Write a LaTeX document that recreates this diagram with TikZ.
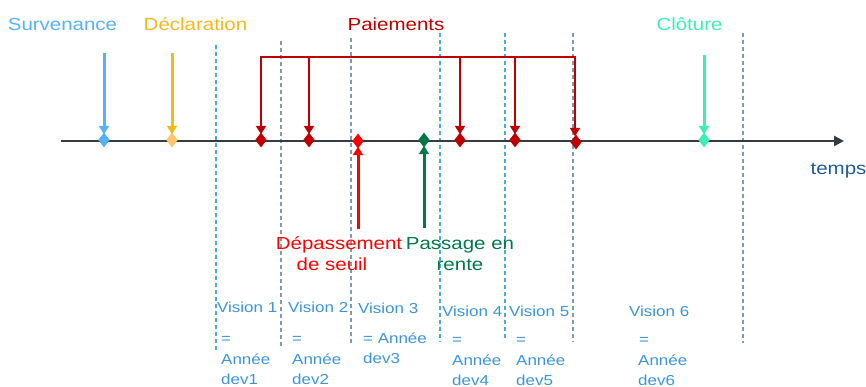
\documentclass[tikz,border=0pt]{standalone}
\usepackage{fontspec}
\setmainfont[FakeStretch=1.17]{Liberation Sans}
\usetikzlibrary{shapes.geometric,arrows.meta}
\definecolor{cSurv}{HTML}{55B2F5}
\definecolor{cDecl}{HTML}{F4B919}
\definecolor{cDeclD}{HTML}{FFC66E}
\definecolor{cPaie}{HTML}{C00000}
\definecolor{cClot}{HTML}{3DF0B2}
\definecolor{cDep}{HTML}{FF0000}
\definecolor{cRente}{HTML}{00784A}
\definecolor{cTemps}{HTML}{1F5C99}
\definecolor{cVis}{HTML}{3A95DC}
\definecolor{cAxis}{HTML}{353B42}
\definecolor{cDashA}{HTML}{45AED6}
\definecolor{cDashB}{HTML}{7E9CAC}
\begin{document}
\begin{tikzpicture}[x=1pt,y=-1pt,
  title/.style={font=\fontsize{17.5}{21}\selectfont, anchor=base, inner sep=0},
  vis/.style={font=\fontsize{14.5}{17}\selectfont, anchor=base west, inner sep=0, text=cVis},
  evmark/.style={diamond, fill=#1, draw=none, inner sep=0, minimum width=11.5pt, minimum height=15pt},
  evarrow/.style={draw=#1, line width=3pt, shorten >=-2pt, -{Triangle[width=10pt,length=8.5pt]}},
  pailine/.style={draw=cPaie, line width=2.8pt},
  dashA/.style={draw=cDashA, line width=1.3pt, dash pattern=on 4pt off 3pt},
  dashB/.style={draw=cDashB, line width=1.5pt, dash pattern=on 4pt off 3pt},
  axisline/.style={draw=cAxis, line width=2.7pt, -{Triangle[width=10pt,length=10pt]}}
]
\useasboundingbox (0,0) rectangle (866,387);

% dashed vision boundaries
\coordinate (v1t) at (216,45);  \coordinate (v1b) at (216,353);
\coordinate (v2t) at (281,41);  \coordinate (v2b) at (281,346);
\coordinate (v3t) at (351,38);  \coordinate (v3b) at (351,344);
\coordinate (v4t) at (440,33);  \coordinate (v4b) at (440,342);
\coordinate (v5t) at (505,33);  \coordinate (v5b) at (505,338);
\coordinate (v6t) at (573,33);  \coordinate (v6b) at (573,342);
\coordinate (v7t) at (743,33);  \coordinate (v7b) at (743,343);
\draw[dashA] (v1t) -- (v1b);
\draw[dashB] (v2t) -- (v2b);
\draw[dashB] (v3t) -- (v3b);
\draw[dashA] (v4t) -- (v4b);
\draw[dashA] (v5t) -- (v5b);
\draw[dashB] (v6t) -- (v6b);
\draw[dashB] (v7t) -- (v7b);

% time axis
\coordinate (a0) at (61,141);
\coordinate (a1) at (844,141);
\draw[axisline] (a0) -- (a1);
\node[title, text=cTemps] (temps) at (838.5,175) {temps};

% event markers
\node[evmark=cSurv]  (dS)  at (104,140) {};
\node[evmark=cDeclD] (dD)  at (172,140) {};
\node[evmark=cPaie]  (dP1) at (261,140) {};
\node[evmark=cPaie]  (dP2) at (309,140) {};
\node[evmark=cDep]   (dX)  at (358,141) {};
\node[evmark=cRente] (dR)  at (424,140) {};
\node[evmark=cPaie]  (dP3) at (460,140) {};
\node[evmark=cPaie]  (dP4) at (515,140) {};
\node[evmark=cPaie]  (dP5) at (576,142) {};
\node[evmark=cClot]  (dC)  at (704,140) {};

% top arrows
\coordinate (tS) at (104,53);
\coordinate (tD) at (172,53);
\coordinate (tC) at (704,55);
\draw[evarrow=cSurv] (tS) -- (dS.north);
\draw[evarrow=cDecl] (tD) -- (dD.north);
\draw[evarrow=cClot] (tC) -- (dC.north);

% paiements bracket
\coordinate (p1) at (261,57);
\coordinate (p2) at (309,57);
\coordinate (p3) at (460,57);
\coordinate (p4) at (515,57);
\coordinate (p5) at (575,57);
\draw[pailine] ([xshift=-1.4pt]p1) -- ([xshift=1.4pt]p5);
\draw[evarrow=cPaie, line width=2.8pt] (p1) -- (dP1.north);
\draw[evarrow=cPaie, line width=2.8pt] (p2) -- (dP2.north);
\draw[evarrow=cPaie, line width=2.8pt] (p3) -- (dP3.north);
\draw[evarrow=cPaie, line width=2.8pt] (p4) -- (dP4.north);
\draw[evarrow=cPaie, line width=2.8pt] (p5) -- (dP5.north -| p5);

% bottom arrows
\coordinate (bX) at (358,229);
\coordinate (bR) at (424,228);
\draw[evarrow=cDep] (bX) -- (dX.south);
\draw[evarrow=cRente] (bR) -- (dR.south);

% titles
\node[title, text=cSurv]  (tSurv) at (62.5,31) {Survenance};
\node[title, text=cDecl]  (tDecl) at (195.5,31) {Déclaration};
\node[title, text=cPaie]  (tPaie) at (396,31) {Paiements};
\node[title, text=cClot]  (tClot) at (689.5,31) {Clôture};
\node[title, text=cDep]   (tDep1) at (339,249) {Dépassement};
\node[title, text=cDep]   (tDep2) at (332,270) {de seuil};
\node[title, text=cRente] (tRen1) at (460,249) {Passage en};
\node[title, text=cRente] (tRen2) at (460,270) {rente};

% vision labels
\node[vis] (w1a) at (217,312) {Vision 1};
\node[vis] (w1b) at (221,343) {=};
\node[vis] (w1c) at (221,364) {Année};
\node[vis] (w1d) at (221,384) {dev1};
\node[vis] (w2a) at (288,312) {Vision 2};
\node[vis] (w2b) at (292,343) {=};
\node[vis] (w2c) at (292,364) {Année};
\node[vis] (w2d) at (292,384) {dev2};
\node[vis] (w3a) at (358,313) {Vision 3};
\node[vis] (w3b) at (363,343) {= Année};
\node[vis] (w3c) at (363,363) {dev3};
\node[vis] (w4a) at (442,316) {Vision 4};
\node[vis] (w4b) at (452,344) {=};
\node[vis] (w4c) at (452,365) {Année};
\node[vis] (w4d) at (452,385) {dev4};
\node[vis] (w5a) at (509,316) {Vision 5};
\node[vis] (w5b) at (516,344) {=};
\node[vis] (w5c) at (516,365) {Année};
\node[vis] (w5d) at (516,385) {dev5};
\node[vis] (w6a) at (629,316) {Vision 6};
\node[vis] (w6b) at (639,344) {=};
\node[vis] (w6c) at (638,365) {Année};
\node[vis] (w6d) at (638,385) {dev6};
\end{tikzpicture}
\end{document}
